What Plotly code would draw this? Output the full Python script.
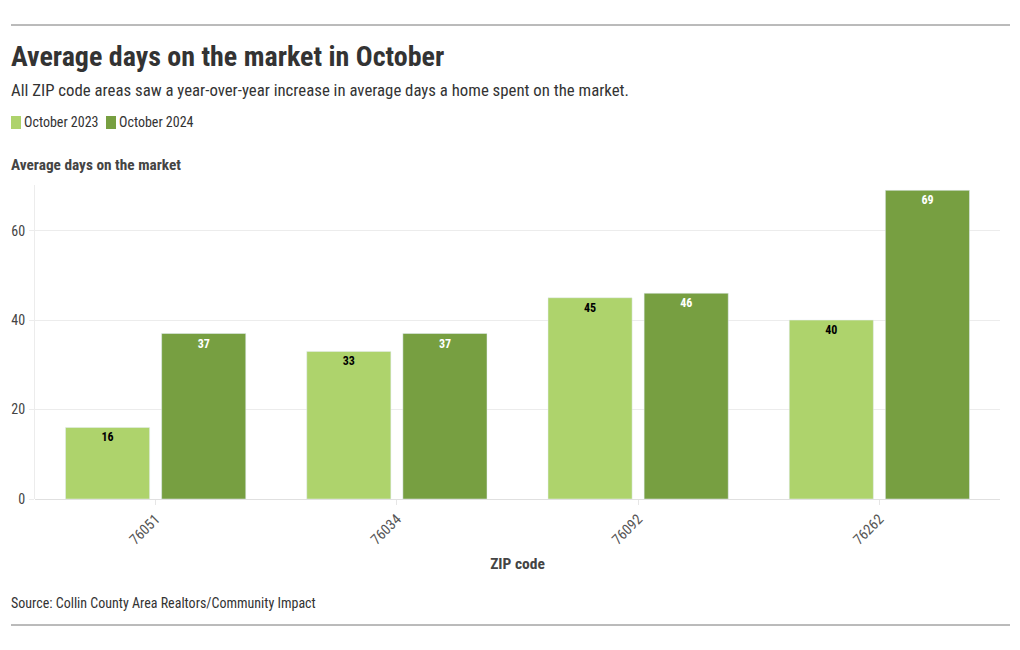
import plotly.graph_objects as go

zips = ["76051", "76034", "76092", "76262"]
oct2023 = [16, 33, 45, 40]
oct2024 = [37, 37, 46, 69]
y_ticks = [0, 20, 40, 60]
series_names = ["October 2023", "October 2024"]
series_colors = ["#aed36c", "#779f41"]

FONT = "Roboto Condensed, Liberation Sans Narrow, DejaVu Sans Condensed, Roboto, sans-serif"
W, H = 1020, 650
OFF = 8  # page offset observed in the browser
L, R, T, B = 35 - OFF, 20 + OFF, 185 - OFF, 151 + OFF
pw = W - L - R
ph = H - T - B


def px(x):
    return (x - OFF - L) / pw


def py(y):
    return (H - B - (y - OFF)) / ph


fig = go.Figure()
fig.add_trace(go.Bar(
    x=zips, y=oct2023, name=series_names[0],
    marker=dict(color=series_colors[0]),
    text=oct2023, textposition="inside", insidetextanchor="end",
    textfont=dict(color="#000000", size=12, family=FONT, weight="bold"),
))
fig.add_trace(go.Bar(
    x=zips, y=oct2024, name=series_names[1],
    marker=dict(color=series_colors[1]),
    text=oct2024, textposition="inside", insidetextanchor="end",
    textfont=dict(color="#ffffff", size=12, family=FONT, weight="bold"),
))

annotations = [
    dict(text="<b>Average days on the market in October</b>", x=px(9), y=py(56),
         font=dict(size=28, color="#333333", family=FONT)),
    dict(text="All ZIP code areas saw a year-over-year increase in average days a home spent on the market.",
         x=px(9), y=py(90), font=dict(size=16.8, color="#333333", family=FONT)),
    dict(text="<b>Average days on the market</b>", x=px(9), y=py(165),
         font=dict(size=15.3, color="#444444", family=FONT)),
    dict(text="Source: Collin County Area Realtors/Community Impact", x=px(9), y=py(603),
         font=dict(size=14, color="#333333", family=FONT)),
    dict(text=series_names[0], x=px(22), y=py(122), font=dict(size=14, color="#333333", family=FONT)),
    dict(text=series_names[1], x=px(117), y=py(122), font=dict(size=14, color="#333333", family=FONT)),
]
for a in annotations:
    a.update(xref="paper", yref="paper", xanchor="left", yanchor="middle", showarrow=False)

shapes = [
    dict(type="line", xref="paper", yref="paper", x0=px(11), x1=px(1010), y0=py(25), y1=py(25),
         line=dict(color="#777777", width=1)),
    dict(type="line", xref="paper", yref="paper", x0=px(11), x1=px(1010), y0=py(625), y1=py(625),
         line=dict(color="#777777", width=1)),
    dict(type="rect", xref="paper", yref="paper", x0=px(11), x1=px(21), y0=py(129), y1=py(116),
         fillcolor=series_colors[0], line=dict(width=0)),
    dict(type="rect", xref="paper", yref="paper", x0=px(106), x1=px(116), y0=py(129), y1=py(116),
         fillcolor=series_colors[1], line=dict(width=0)),
]

fig.update_layout(
    width=W, height=H,
    margin=dict(l=L, r=R, t=T, b=B, autoexpand=False),
    paper_bgcolor="white", plot_bgcolor="white",
    font=dict(family=FONT, color="#333333", size=14),
    barmode="group", bargap=0.203, bargroupgap=0.125,
    uniformtext=dict(minsize=12, mode="show"),
    showlegend=False,
    xaxis=dict(
        tickangle=-45, tickfont=dict(size=14.5, color="#555555"),
        showgrid=False, showline=False, ticks="outside", ticklen=5,
        tickcolor="#e6e6e6", tickwidth=1, automargin=False,
        title=dict(text="<b>ZIP code</b>", font=dict(size=15.5, color="#444444"), standoff=10),
    ),
    yaxis=dict(
        range=[0, 70.2], tickvals=y_ticks, tickfont=dict(size=14, color="#444444"),
        showgrid=True, gridcolor="#ececec", gridwidth=1,
        zeroline=True, zerolinecolor="#e0e0e0", zerolinewidth=1,
        showline=True, linecolor="#ececec", linewidth=1,
        ticks="outside", ticklen=5, tickcolor="#ececec",
        ticklabelstandoff=1, automargin=False,
    ),
    annotations=annotations,
    shapes=shapes,
)

fig.write_html("out.html")
